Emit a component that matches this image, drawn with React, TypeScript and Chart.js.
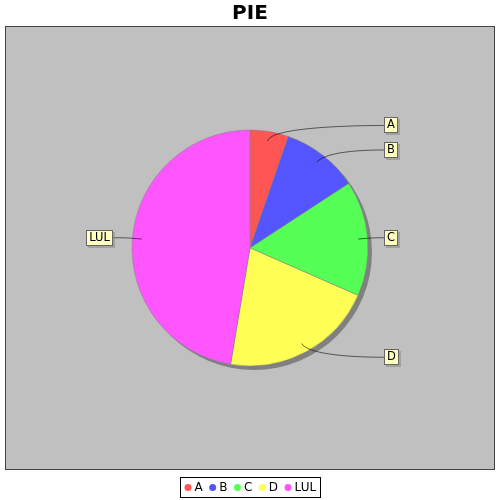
import React, { useEffect, useRef } from "react";
import { Chart, registerables } from "chart.js";

Chart.register(...registerables);

// ---- data ----
const categories: string[] = ["A", "B", "C", "D", "LUL"];
const values: number[] = [5, 10, 15, 20, 45];
const sliceColors: string[] = ["#FF5555", "#5555FF", "#55FF55", "#FFFF55", "#FF55FF"];
const chartTitle = "PIE";

const FONT = "'DejaVu Sans', 'Liberation Sans', sans-serif";
const LINK_AREA_RATIO = 1 / 0.95; // link-area radius relative to pie radius
const LINK_PERCENT = 0.92; // where the link line starts inside a slice
const LABEL_GAP_RIGHT = 10;
const LABEL_GAP_LEFT = 13;

const framePlugin = {
  id: "jfreeFrame",
  beforeDraw(chart: any) {
    const { ctx, chartArea: a } = chart;
    ctx.save();
    ctx.fillStyle = "#FFFFFF";
    ctx.fillRect(0, 0, chart.width, chart.height);
    ctx.fillStyle = "#C0C0C0";
    ctx.fillRect(a.left, a.top, a.right - a.left, a.bottom - a.top);
    ctx.strokeStyle = "#444444";
    ctx.lineWidth = 1;
    ctx.strokeRect(a.left + 0.5, a.top + 0.5, a.right - a.left - 1, a.bottom - a.top - 1);
    ctx.restore();
  },
};

const shadowPlugin = {
  id: "pieShadow",
  beforeDatasetsDraw(chart: any) {
    const arcs = chart.getDatasetMeta(0).data;
    if (!arcs.length) return;
    const { x, y, outerRadius } = arcs[0];
    const ctx = chart.ctx;
    ctx.save();
    ctx.fillStyle = "rgb(128,128,128)";
    ctx.beginPath();
    ctx.arc(x + 4, y + 4, outerRadius, 0, Math.PI * 2);
    ctx.fill();
    ctx.restore();
  },
};

const labelPlugin = {
  id: "pieLabels",
  afterDatasetsDraw(chart: any) {
    const ctx = chart.ctx;
    const arcs = chart.getDatasetMeta(0).data;
    const labels: string[] = chart.data.labels;
    ctx.save();
    ctx.font = `11.5px ${FONT}`;
    arcs.forEach((arc: any, i: number) => {
      const { x: cx, y: cy, outerRadius: r, startAngle, endAngle } = arc;
      const mid = (startAngle + endAngle) / 2;
      const c = Math.cos(mid);
      const s = Math.sin(mid);
      const rl = r * LINK_AREA_RATIO;
      const linkX = cx + c * r * LINK_PERCENT;
      const linkY = cy + s * r * LINK_PERCENT;
      const elbowX = cx + c * rl;
      const elbowY = cy + s * rl;
      const right = c >= 0;
      const anchorX = right ? cx + rl : cx - rl;
      const anchorY = elbowY;
      const targetX = right ? anchorX + LABEL_GAP_RIGHT : anchorX - LABEL_GAP_LEFT;
      const targetY = elbowY;

      ctx.strokeStyle = "rgba(0,0,0,0.75)";
      ctx.lineWidth = 0.75;
      ctx.beginPath();
      ctx.moveTo(targetX, targetY);
      ctx.bezierCurveTo(anchorX, anchorY, elbowX, elbowY, linkX, linkY);
      ctx.stroke();

      const text = labels[i];
      const tw = ctx.measureText(text).width;
      const bw = Math.round(tw + 6);
      const bh = 16;
      const left = Math.round(right ? targetX : targetX - bw);
      const top = Math.round(targetY - bh / 2);
      ctx.fillStyle = "rgba(140,140,140,0.6)";
      ctx.fillRect(left + 2, top + 2, bw, bh);
      ctx.fillStyle = "#FFFFC0";
      ctx.fillRect(left, top, bw, bh);
      ctx.strokeStyle = "#666666";
      ctx.lineWidth = 1;
      ctx.strokeRect(left + 0.5, top + 0.5, bw - 1, bh - 1);
      ctx.fillStyle = "#000000";
      ctx.textAlign = "center";
      ctx.textBaseline = "middle";
      ctx.fillText(text, left + bw / 2, top + bh / 2 + 0.5);
    });
    ctx.restore();
  },
};

const legendPlugin = {
  id: "boxLegend",
  afterDraw(chart: any) {
    const ctx = chart.ctx;
    const labels: string[] = chart.data.labels;
    const colors: string[] = chart.data.datasets[0].backgroundColor;
    ctx.save();
    ctx.font = `12px ${FONT}`;
    const dot = 7;
    const dotGap = 3;
    const itemGap = 6.5;
    const pad = 4.5;
    const widths = labels.map((l) => ctx.measureText(l).width);
    const content =
      widths.reduce((a, w) => a + dot + dotGap + w, 0) + itemGap * (labels.length - 1);
    const boxW = Math.round(content + pad * 2);
    const boxH = 21;
    const boxLeft = Math.round(chart.width / 2 - boxW / 2);
    const boxTop = Math.round(chart.chartArea.bottom + 7);
    ctx.fillStyle = "#FFFFFF";
    ctx.fillRect(boxLeft, boxTop, boxW, boxH);
    ctx.strokeStyle = "#000000";
    ctx.lineWidth = 1;
    ctx.strokeRect(boxLeft + 0.5, boxTop + 0.5, boxW - 1, boxH - 1);
    const cy = boxTop + boxH / 2;
    let x = boxLeft + pad;
    labels.forEach((l, i) => {
      ctx.fillStyle = colors[i];
      ctx.beginPath();
      ctx.arc(x + dot / 2, cy, dot / 2, 0, Math.PI * 2);
      ctx.fill();
      ctx.fillStyle = "#000000";
      ctx.textAlign = "left";
      ctx.textBaseline = "middle";
      ctx.fillText(l, x + dot + dotGap, cy + 0.5);
      x += dot + dotGap + widths[i] + itemGap;
    });
    ctx.restore();
  },
};

export default function App() {
  const canvasRef = useRef<HTMLCanvasElement | null>(null);

  useEffect(() => {
    if (!canvasRef.current) return;
    const chart = new Chart(canvasRef.current, {
      type: "pie",
      data: {
        labels: categories,
        datasets: [
          {
            data: values,
            backgroundColor: sliceColors,
            borderColor: "#808080",
            borderWidth: 0.5,
          },
        ],
      },
      options: {
        responsive: false,
        animation: false,
        radius: 118,
        layout: { padding: { top: 0, left: 5, right: 5, bottom: 30 } },
        plugins: {
          legend: { display: false },
          tooltip: { enabled: false },
          title: {
            display: true,
            text: chartTitle,
            color: "#000000",
            font: { family: FONT, size: 20, weight: "bold", lineHeight: 1.2 },
            padding: { top: 1.5, bottom: 0.5 },
          },
        },
      } as any,
      plugins: [framePlugin, shadowPlugin, labelPlugin, legendPlugin],
    });
    return () => chart.destroy();
  }, []);

  return (
    <div style={{ position: "absolute", left: 0, top: 0, width: 500, height: 500 }}>
      <canvas ref={canvasRef} width={500} height={500} style={{ width: 500, height: 500 }} />
    </div>
  );
}
